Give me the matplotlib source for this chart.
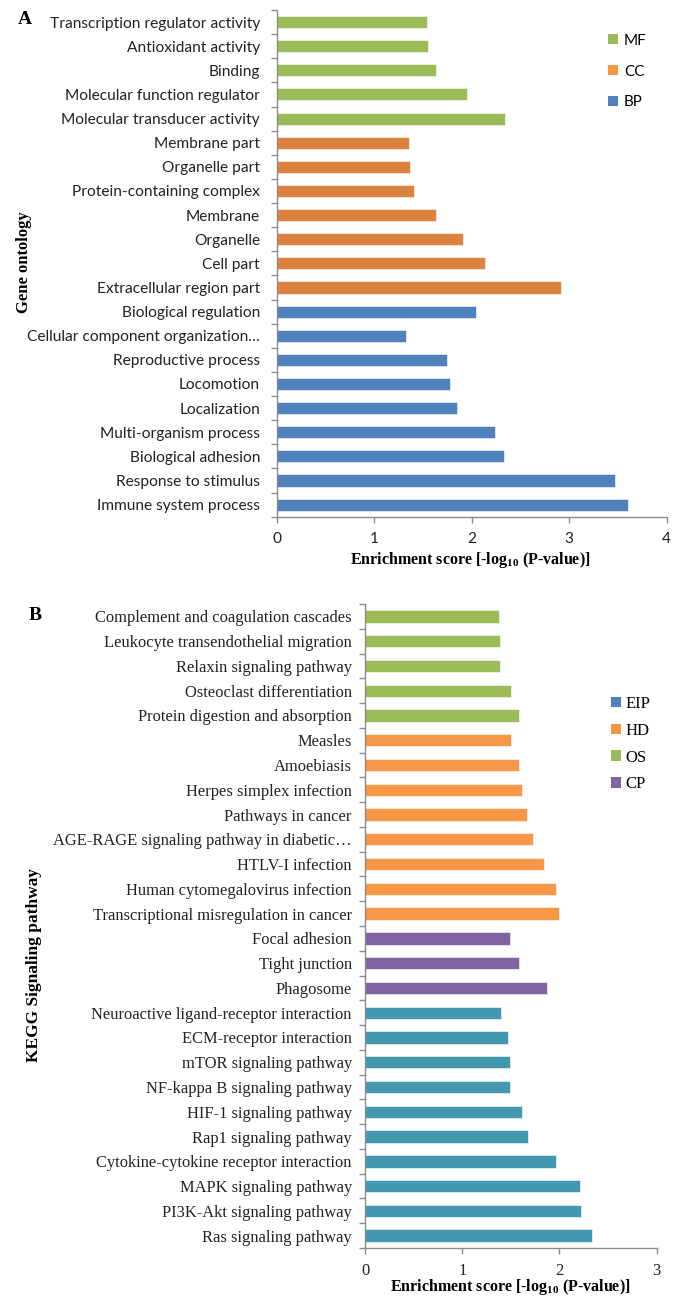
import numpy as np
import matplotlib
matplotlib.use("Agg")
import matplotlib.pyplot as plt
from matplotlib.patches import Patch

plt.rcParams['mathtext.fontset'] = 'custom'
plt.rcParams['mathtext.rm'] = 'Liberation Serif:bold'
plt.rcParams['mathtext.bf'] = 'Liberation Serif:bold'

# ---- panel A: GO terms, listed top to bottom ----
go_terms = [
    "Transcription regulator activity", "Antioxidant activity", "Binding",
    "Molecular function regulator", "Molecular transducer activity",
    "Membrane part", "Organelle part", "Protein-containing complex",
    "Membrane", "Organelle", "Cell part", "Extracellular region part",
    "Biological regulation", "Cellular component organization\u2026",
    "Reproductive process", "Locomotion", "Localization",
    "Multi-organism process", "Biological adhesion", "Response to stimulus",
    "Immune system process",
]
go_scores = [1.54, 1.555, 1.63, 1.95, 2.34,
             1.36, 1.365, 1.41, 1.63, 1.91, 2.14, 2.92,
             2.04, 1.33, 1.75, 1.78, 1.85, 2.24, 2.33, 3.47, 3.60]
go_class = ["MF"] * 5 + ["CC"] * 7 + ["BP"] * 9

# ---- panel B: KEGG pathways, listed top to bottom ----
kegg_terms = [
    "Complement and coagulation cascades", "Leukocyte transendothelial migration",
    "Relaxin signaling pathway", "Osteoclast differentiation",
    "Protein digestion and absorption", "Measles", "Amoebiasis",
    "Herpes simplex infection", "Pathways in cancer",
    "AGE-RAGE signaling pathway in diabetic\u2026", "HTLV-I infection",
    "Human cytomegalovirus infection", "Transcriptional misregulation in cancer",
    "Focal adhesion", "Tight junction", "Phagosome",
    "Neuroactive ligand-receptor interaction", "ECM-receptor interaction",
    "mTOR signaling pathway", "NF-kappa B signaling pathway",
    "HIF-1 signaling pathway", "Rap1 signaling pathway",
    "Cytokine-cytokine receptor interaction", "MAPK signaling pathway",
    "PI3K-Akt signaling pathway", "Ras signaling pathway",
]
kegg_scores = [1.375, 1.385, 1.385, 1.50, 1.58,
               1.50, 1.58, 1.61, 1.67, 1.73, 1.845, 1.96, 2.00,
               1.49, 1.58, 1.87,
               1.40, 1.47, 1.495, 1.495, 1.61, 1.68, 1.96, 2.215, 2.22, 2.33]
kegg_class = ["OS"] * 5 + ["HD"] * 8 + ["CP"] * 3 + ["EIP"] * 10

go_bar_colors = {"MF": "#9bbb59", "CC": "#dc843f", "BP": "#4f81bd"}
go_key_colors = {"MF": "#9bbb59", "CC": "#f79646", "BP": "#4f81bd"}
kegg_bar_colors = {"EIP": "#4397ae", "HD": "#f79646", "OS": "#9bbb59", "CP": "#8064a2"}
kegg_key_colors = {"EIP": "#4f81bd", "HD": "#f79646", "OS": "#9bbb59", "CP": "#8064a2"}

W, H = 680, 1297
fig = plt.figure(figsize=(W / 100, H / 100), dpi=100)


def px_axes(x0, y0, x1, y1):
    return fig.add_axes([x0 / W, 1 - y1 / H, (x1 - x0) / W, (y1 - y0) / H])


def style_axes(ax, n, xmax, labels, font, fsize, ypad):
    ax.set_ylim(n - 0.5, -0.5)
    ax.set_xlim(0, xmax)
    for s in ("top", "right"):
        ax.spines[s].set_visible(False)
    for s in ("left", "bottom"):
        ax.spines[s].set_color("#8c8c8c")
        ax.spines[s].set_linewidth(1.0)
    ax.set_yticks(np.arange(n))
    ax.set_yticklabels(labels, fontfamily=font, fontsize=fsize, color="#222222")
    ax.set_yticks(np.arange(n + 1) - 0.5, minor=True)
    ax.tick_params(axis="y", which="major", length=0, pad=ypad)
    ax.tick_params(axis="y", which="minor", length=4, color="#8c8c8c", width=1)
    ax.set_xticks(np.arange(xmax + 1))
    ax.tick_params(axis="x", length=4, color="#8c8c8c", width=1, pad=7)
    for t in ax.get_xticklabels():
        t.set_fontfamily(font)
        t.set_fontsize(fsize)
        t.set_color("#222222")


# panel A
axA = px_axes(276.7, 10, 666.7, 516.7)
yA = np.arange(len(go_terms))
axA.barh(yA, go_scores, height=0.5, color=[go_bar_colors[c] for c in go_class],
         edgecolor="white", linewidth=0.4)
style_axes(axA, len(go_terms), 4, go_terms, "Lato", 11.2, 12)
keysA = ["MF", "CC", "BP"]
axA.legend(handles=[Patch(facecolor=go_key_colors[k], label=k) for k in keysA],
           loc="upper left", bbox_to_anchor=(594 / W, 1 - 20 / H),
           bbox_transform=fig.transFigure, frameon=False,
           handlelength=0.65, handleheight=0.65, handletextpad=0.4,
           labelspacing=1.1, prop={"family": "Lato", "size": 11})
fig.text(25 / W, 1 - 19 / H, "A", fontfamily="Liberation Serif",
         fontweight="bold", fontsize=14, ha="center", va="center")
fig.text(24 / W, 1 - 262 / H, "Gene ontology", fontfamily="Liberation Serif",
         fontweight="bold", fontsize=12, rotation=90, ha="center", va="center")
fig.text(470 / W, 1 - 560 / H, r"Enrichment score [-log$_{\mathbf{10}}$ (P-value)]",
         fontfamily="Liberation Serif", fontweight="bold", fontsize=11.5,
         ha="center", va="center")

# panel B
axB = px_axes(365, 604, 656.7, 1248)
yB = np.arange(len(kegg_terms))
axB.barh(yB, kegg_scores, height=0.5, color=[kegg_bar_colors[c] for c in kegg_class],
         edgecolor="white", linewidth=0.4)
style_axes(axB, len(kegg_terms), 3, kegg_terms, "Liberation Serif", 11.9, 9.5)
keysB = ["EIP", "HD", "OS", "CP"]
axB.legend(handles=[Patch(facecolor=kegg_key_colors[k], label=k) for k in keysB],
           loc="upper left", bbox_to_anchor=(596 / W, 1 - 681 / H),
           bbox_transform=fig.transFigure, frameon=False,
           handlelength=0.6, handleheight=0.6, handletextpad=0.25,
           labelspacing=0.65, prop={"family": "Liberation Serif", "size": 12})
fig.text(35 / W, 1 - 616 / H, "B", fontfamily="Liberation Serif",
         fontweight="bold", fontsize=14, ha="center", va="center")
fig.text(34 / W, 1 - 965 / H, "KEGG Signaling pathway", fontfamily="Liberation Serif",
         fontweight="bold", fontsize=12.5, rotation=90, ha="center", va="center")
fig.text(510 / W, 1 - 1287 / H, r"Enrichment score [-log$_{\mathbf{10}}$ (P-value)]",
         fontfamily="Liberation Serif", fontweight="bold", fontsize=11.5,
         ha="center", va="center")

fig.savefig("out.png", dpi=100)
